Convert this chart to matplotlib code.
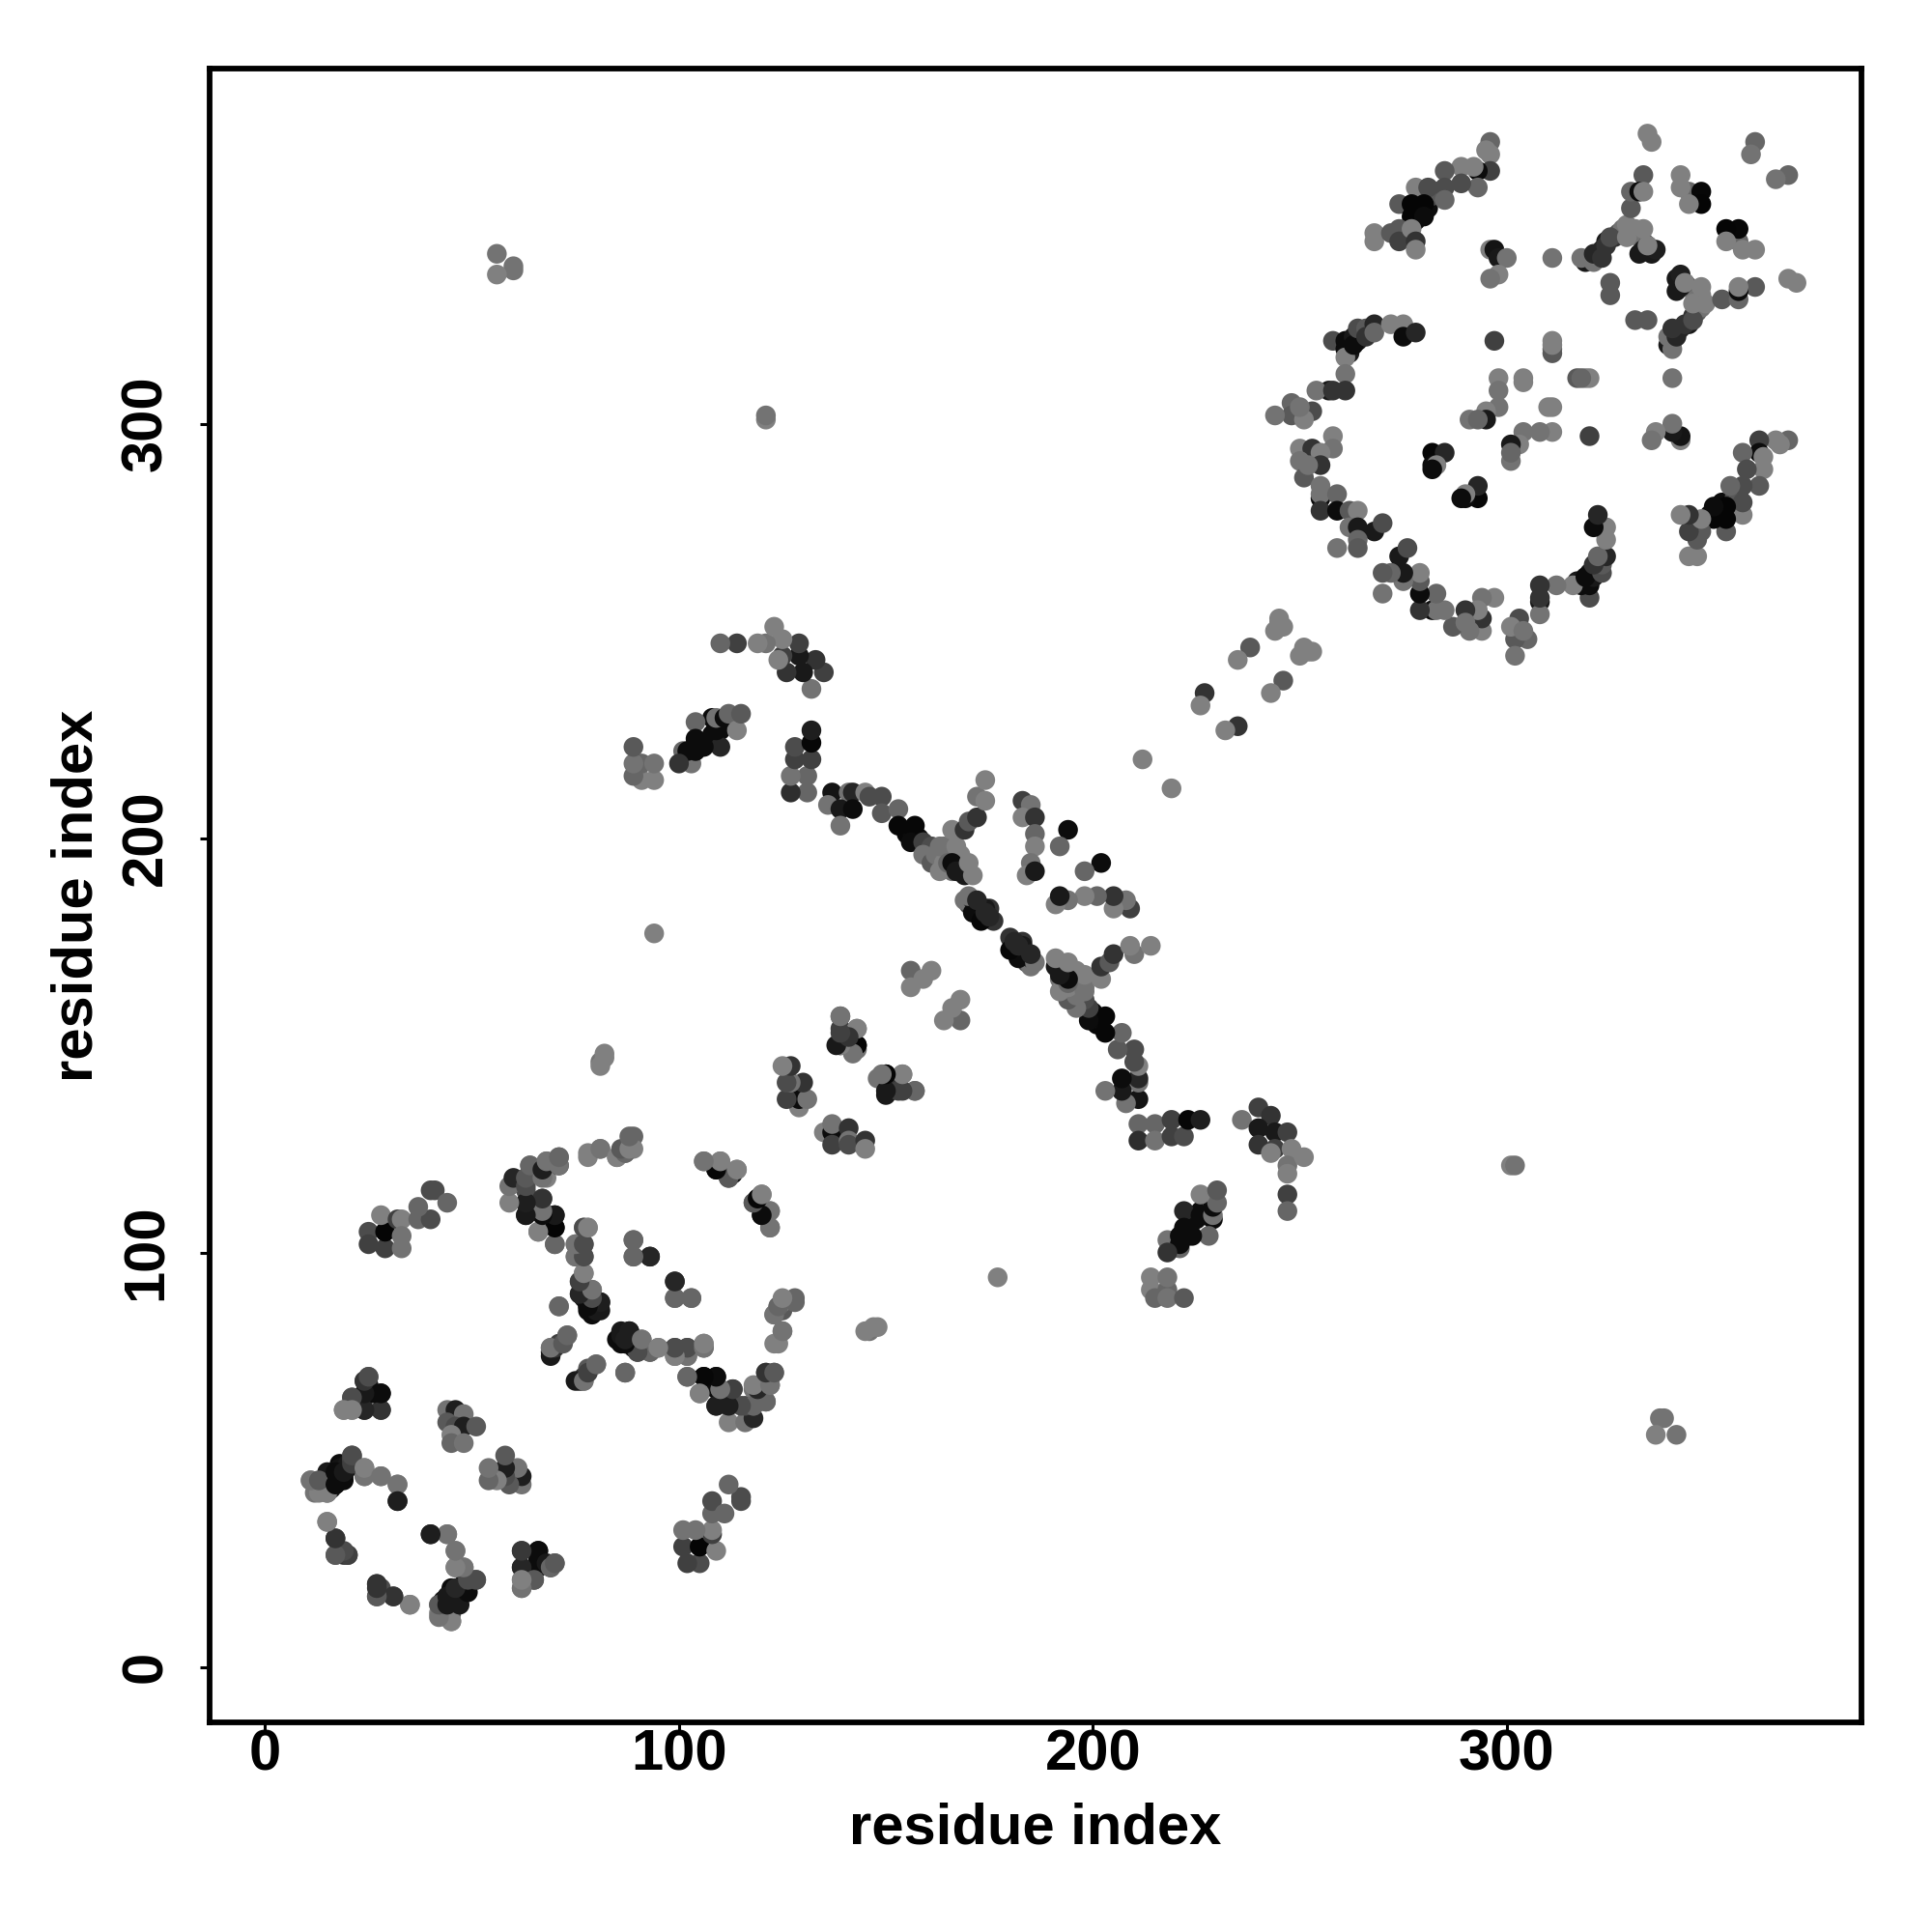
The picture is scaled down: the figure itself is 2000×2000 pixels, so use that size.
import matplotlib
matplotlib.use('Agg')
import matplotlib.pyplot as plt

# contacts as (residue i, residue j, grey level), drawn on both sides of the diagonal
dense_bands = [(160,198,.45),(162,194,.45),(165,197,.5),(163,195,.5),(160,196,.45),(168,196,.5),(166,192,.45),
               (43,15,.05),(44,15,.08),(46,18,.05),(48,20,.1),(43,14,.1),(45,16,.08),(46,16,.1),(47,18,.05),
               (48,18,.08),(49,20,.1),(50,21,.3),
               (319,339,.1),(320,340,.1),(322,341,.1),(324,344,.1),(326,345,.2),(327,346,.35),(328,347,.45),
               (330,346,.45),(331,347,.5),(332,345,.45),(333,344,.45),(334,343,.12),(335,342,.1),(332,341,.1),
               (262,319,.05),(262,317,.1),(264,320,.1),(265,322,.3),
               (278,351,.03),(279,352,.03),(278,349,.05),(280,351,.03),(279,350,.03),(281,352,.05),(282,355,.3),(283,356,.35),
               (172,183,.05),(173,182,.1),(174,181,.05),(175,183,.2),(176,180,.2),(170,184,.3),
               (155,201,.03),(156,202,.05),(157,201,.03),(158,200,.05),
               (219,102,.05),(220,103,.03),(222,105,.03),(223,104,.05),(223,106,.05),(219,101,.1),(225,108,.05),
               (226,110,.05),(227,109,.03),(228,109,.05),(229,112,.45),
               (16,45,.05),(17,46,.05),(18,47,.05),(19,48,.1),(14,44,.1),(16,43,.1),
               (78,86,.05),(79,85,.05),(81,86,.1),
               (87,80,.05),(88,79,.05),(89,77,.1),(90,78,.2),(91,77,.15)]
domain1_a = [(28,66,.05),(25,66,.05),(25,68,.1),(24,62,.15),(28,62,.22),(21,65,.35),(19,62,.45),(21,62,.5),
             (24,69,.4),(25,70,.35),
             (11,45,.5),(12,42,.45),(15,42,.35),(15,44,.1),(17,44,.1),(15,47,.1),(18,49,.05),(19,46,.15),
             (21,51,.3),(21,49,.3),(24,48,.45),(24,46,.5),(28,46,.45),(32,44,.45),(32,40,.12),
             (15,35,.5),(17,31,.2),(17,27,.35),(19,27,.2),(20,27,.2),
             (27,20,.25),(28,19,.3),(27,17,.35),(31,17,.2),(35,15,.5)]
domain1_b = [(42,13,.5),(42,15,.5),(45,11,.45),(45,13,.35),(44,17,.05),(45,19,.05),(47,17,.05),(47,19,.1),
             (49,21,.25),(51,21,.3),(46,24,.45),(48,24,.5),(46,28,.45),(44,32,.45),(40,32,.12),
             (44,62,.45),(46,62,.12),(48,61,.45),(44,59,.35),(46,58,.3),(48,58,.12),(51,58,.35),
             (45,56,.5),(45,54,.4),(48,54,.45),
             (62,28,.2),(66,28,.05),(66,26,.05),(62,24,.15),(66,24,.1),(69,24,.2),(70,25,.3),
             (65,21,.3),(62,21,.5),(62,19,.5)]
domain1_c = [(25,105,.3),(25,102,.25),(29,101,.25),(29,105,.02),(28,109,.5),(32,108,.25),(33,108,.5),
             (33,104,.45),(33,101,.45),(37,108,.4),(40,108,.3),(37,111,.4),(40,115,.3),(41,115,.3),(44,112,.4),
             (64,121,.4),(63,118,.4),(63,115,.3),(63,112,.12),(63,109,.12),(67,113,.25),(67,119,.15),
             (68,118,.5),(68,122,.45),(71,121,.2),(71,123,.35),(67,110,.45),(70,109,.05),(70,106,.03),
             (66,105,.5),(70,102,.4),(78,123,.5),(81,125,.45),(85,123,.45),(87,124,.4),(89,128,.4),(89,125,.5)]
domain1_d = [(75,102,.45),(77,102,.3),(75,99,.5),(77,99,.3),(77,106,.45),(78,106,.5),(76,93,.4),(76,90,.3),
             (78,87,.05),(80,86,.1),(79,87,.12),(81,88,.12),(79,91,.45),(77,95,.5),(71,87,.4),
             (89,103,.4),(89,99,.4),(93,99,.15),(99,93,.15),(99,89,.4),(103,89,.4),
             (69,76,.1),(69,77,.45),(71,78,.25),(73,80,.4),(75,69,.1),(77,70,.2),(77,69,.45),(78,72,.35),
             (80,73,.4),(87,71,.4)]
domain1_e = [(86,80,.1),(88,81,.12),(87,78,.05),(89,79,.3),(90,76,.15),(91,79,.45),(93,76,.25),(95,77,.5),
             (99,75,.45),(99,77,.3),(102,75,.45),(102,77,.3),(106,77,.3),(106,78,.5),
             (102,70,.4),(106,70,.02),(109,70,.1),(105,66,.5),(109,67,.05),(110,67,.45),(113,67,.2),
             (109,63,.1),(112,63,.12),(112,59,.5),(116,59,.45),(118,60,.15),(116,63,.3),(118,63,.35),
             (121,64,.4),(118,67,.45),(120,67,.12),(122,68,.45),(121,71,.45),(123,71,.4),
             (124,78,.5),(125,81,.45),(123,85,.5),(124,87,.4),(125,86,.35),(125,88,.5),(128,88,.4)]
domain1_f = [(106,122,.45),(110,122,.45),(109,120,.05),(112,118,.35),(113,119,.03),(114,120,.5),
             (119,113,.05),(118,112,.35),(120,114,.5),(120,109,.03),(122,110,.5),(122,106,.45),
             (139,157,.4),(139,154,.25),(143,154,.5),(139,150,.1),(143,150,.02),(143,149,.45),
             (150,143,.02),(148,142,.45),(154,143,.5),(150,139,.5),(150,138,.1),(152,141,.2),(153,139,.25),(157,139,.45),
             (135,129,.5),(137,129,.05),(137,131,.45),(137,126,.25),(141,130,.2),(141,127,.45),(141,126,.3),
             (145,127,.2),(145,125,.5),
             (156,168,.4),(161,168,.5),(159,166,.5),(156,164,.5)]

domain2_a = [(137,211,.08),(141,211,.45),(142,211,.15),(145,211,.5),(146,210,.3),(149,210,.3),(136,208,.45),
             (139,207,.1),(142,207,.05),(139,203,.45),(149,206,.35),(153,207,.4),(153,203,.03),(157,203,.03),
             (156,199,.05),(159,199,.25),(161,198,.3),(159,196,.45),(161,194,.35)]
domain2_b = [(162,196,.45),(163,192,.5),(164,194,.5),(166,196,.5),(163,198,.45),(164,198,.45),(167,198,.5),
             (165,194,.4),(166,194,.05),(167,192,.1),(169,191,.1),(170,194,.5),(171,191,.5),
             (166,202,.5),(169,202,.2),(170,204,.35),(172,205,.2),(172,210,.45),(174,209,.5),(174,214,.5),
             (169,185,.45),(171,185,.15),(171,182,.05),(173,180,.03),(174,183,.1),(175,181,.15),
             (170,186,.45),(172,185,.15),(174,182,.15)]
domain2_c = [(183,209,.25),(185,208,.45),(183,205,.5),(186,205,.2),(186,201,.4),(186,198,.5),(185,194,.45),
             (184,191,.5),(186,192,.1),(194,202,.05),(192,198,.4),(212,219,.5),
             (211,131,.4),(215,131,.4),(211,127,.18),(215,127,.45),(219,132,.25),(219,128,.25),(222,128,.3),
             (223,132,.03),(226,132,.12)]
domain2_d = [(236,132,.45),(240,135,.25),(243,133,.2),(240,130,.1),(244,129,.1),(247,129,.25),(240,126,.2),
             (244,125,.25),(243,124,.5),(248,125,.5),(247,121,.45),(247,119,.5),(251,123,.5),(247,114,.25),(247,110,.4),
             (222,110,.15),(226,109,.05),(229,108,.05),(229,109,.45),(229,111,.05),(230,112,.4),(226,114,.5),(230,115,.35),
             (228,104,.4),(222,106,.05),(224,104,.05),(218,103,.45),(221,104,.05),(221,101,.4),(221,102,.05),(218,100,.2),
             (214,91,.5),(214,94,.5),(218,91,.4),(218,94,.45),(215,89,.4),(218,89,.45),(222,89,.35)]

linker = [(227,235,.2),(226,232,.5),(238,246,.35),(235,243,.5),(244,250,.5),(245,252,.5),(245,253,.5),(246,251,.5)]

domain3_a = [(258,320,.3),(261,320,.05),(261,318,.05),(261,316,.5),(263,321,.1),(263,319,.05),(264,323,.3),
             (266,323,.35),(266,321,.2),(268,324,.15),(268,322,.4),(272,324,.5),(275,324,.5),(275,321,.05),(278,322,.15),
             (261,312,.45),(261,308,.2),(257,308,.1),(254,308,.45),(258,308,.2),(253,303,.3),(248,305,.4),(248,302,.35),
             (244,302,.45),(251,301,.5),(250,304,.45),(258,297,.5),(258,294,.45),(250,294,.5),(253,294,.2),(255,293,.5),
             (250,291,.45),(255,290,.2),(251,287,.35),(252,290,.45)]
domain3_b = [(255,285,.45),(255,282,.05),(255,283,.45),(259,283,.4),(255,279,.2),(259,279,.05),(262,279,.35),
             (264,279,.5),(262,275,.45),(264,275,.1),(268,274,.1),(270,276,.3),(264,272,.4),(264,270,.35),(259,270,.45),
             (297,320,.25),(311,320,.5),(311,318,.4),(298,311,.5),(304,311,.5),(304,310,.5),(317,311,.35),(319,311,.5),
             (298,308,.45),(298,304,.45),(295,303,.5),(295,301,.1),(291,301,.45),(293,301,.4),
             (282,293,.03),(285,293,.15),(282,290,.05),(283,290,.5),(282,289,.05)]
domain3_c = [(296,368,.4),(295,366,.5),(296,365,.5),(296,361,.25),(293,361,.05),(292,362,.5),(289,362,.5),(285,361,.35),
             (293,357,.4),(289,358,.3),(285,357,.3),(278,357,.5),(281,357,.3),(285,354,.4),(274,353,.35),(277,353,.02),
             (280,353,.02),(277,350,.02),(280,350,.05),(268,346,.5),(268,344,.5),(272,346,.35),(274,347,.35),(274,344,.25),
             (277,347,.5),(278,344,.2),(278,342,.5),
             (296,342,.5),(297,342,.08),(298,340,.1),(300,340,.45),(298,336,.5),(296,335,.45),(311,340,.45)]
domain3_d = [(318,340,.45),(321,339,.45),(321,341,.15),(323,342,.15),(323,340,.2),(324,343,.2),(325,345,.3),
             (329,348,.5),(329,345,.5),(333,347,.5),(333,342,.1),(335,341,.1),(336,342,.12),(334,343,.5),
             (330,352,.35),(333,360,.35),(330,356,.4),(332,356,.05),(333,356,.5),(334,370,.5),(335,368,.5),
             (342,360,.5),(344,356,.4),(342,357,.5),(347,356,.03),(347,353,.02),(344,353,.5),
             (360,368,.4),(359,365,.45),(325,331,.35),(325,334,.35)]
long_range = [(56,341,.45),(60,338,.45),(60,337,.45),(56,336,.5),(121,301,.5),(121,302,.45),(94,177,.5),
              (81,146,.45),(82,147,.5),(81,145,.5),(82,148,.5)]

contacts = (dense_bands + domain1_a + domain1_b + domain1_c + domain1_d + domain1_e + domain1_f + domain2_a
            + domain2_b + domain2_c + domain2_d + linker + domain3_a + domain3_b + domain3_c + domain3_d + long_range)

res_i = [c[0] for c in contacts]
res_j = [c[1] for c in contacts]
grey = [c[2] for c in contacts]

plt.rcParams['font.family'] = ['Liberation Sans', 'DejaVu Sans']
plt.rcParams['font.weight'] = 'bold'

fig = plt.figure(figsize=(10, 10), dpi=200)
ax = fig.add_axes([0.1085, 0.1085, 0.855, 0.856])

ax.scatter(res_i + res_j, res_j + res_i, c=grey + grey, cmap='gray', vmin=0, vmax=1, s=54, linewidths=0)

ax.set_xlim(-13.4, 385.7)
ax.set_ylim(-13.4, 385.7)
ax.set_xticks([0, 100, 200, 300])
ax.set_yticks([0, 100, 200, 300])
ax.tick_params(axis='both', labelsize=21.5, width=1.1, length=3.5)
ax.tick_params(axis='x', pad=-1)
ax.tick_params(axis='y', pad=10)
for t in ax.get_yticklabels():
    t.set_rotation(90)
    t.set_va('center')
for s in ax.spines.values():
    s.set_linewidth(2.1)
ax.set_xlabel('residue index', fontsize=21.5, fontweight='bold', labelpad=7.5)
ax.set_ylabel('residue index', fontsize=21.5, fontweight='bold', labelpad=6)

fig.savefig('out.png', dpi=200)
